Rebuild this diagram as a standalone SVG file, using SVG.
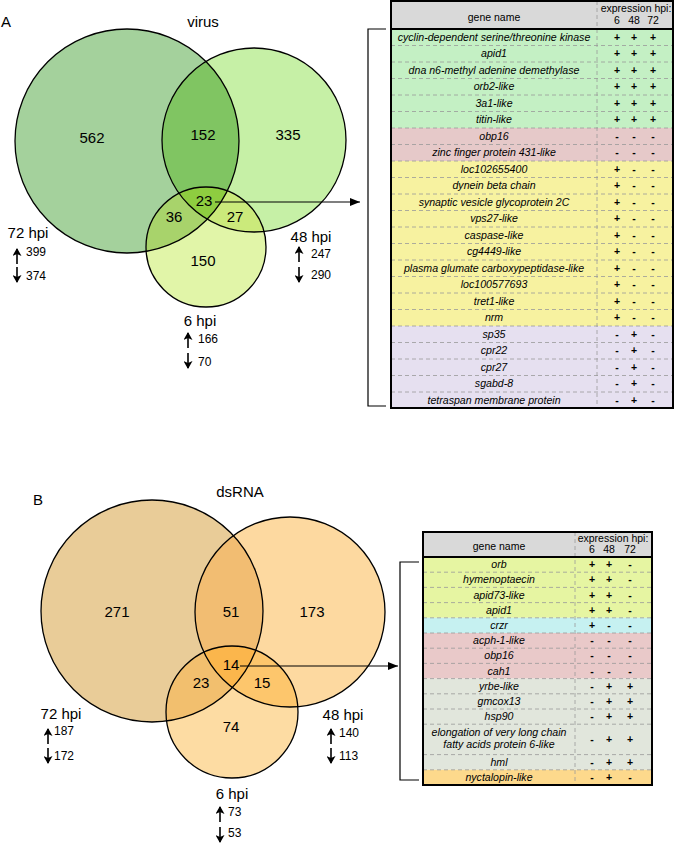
<svg xmlns="http://www.w3.org/2000/svg" width="675" height="843" viewBox="0 0 675 843">
<style>
text{font-family:"Liberation Sans",Arial,sans-serif;fill:#000}
.lbl{font-size:15px}
.num{font-size:15px;text-anchor:middle}
.sm{font-size:12px}
.mid{text-anchor:middle}
.g{font-size:10.6px;font-style:italic;text-anchor:middle}
.h{font-size:10.5px;text-anchor:middle}
.v{font-size:10.5px;font-weight:bold;text-anchor:middle}
.ring{fill:none;stroke:#000;stroke-width:1.3}
.rl{stroke:#999;stroke-width:0.8;stroke-dasharray:4,3}
.box{fill:none;stroke:#000;stroke-width:2}
.con{stroke:#000;stroke-width:1.2;fill:none}
.ud{stroke:#000;stroke-width:1.6;fill:none}
</style>
<defs>
<marker id="ah" markerWidth="10" markerHeight="8" refX="10" refY="4" orient="auto" markerUnits="userSpaceOnUse"><path d="M0,0 L10,4 L0,8 z" fill="#000"/></marker>
<marker id="sa" markerWidth="8" markerHeight="9" refX="7" refY="4.5" orient="auto" markerUnits="userSpaceOnUse"><path d="M0,0 L8,4.5 L0,9 L2,4.5 z" fill="#000"/></marker>
<clipPath id="cA1"><circle cx="127" cy="141" r="112"/></clipPath>
<clipPath id="cB1"><circle cx="254" cy="140" r="92"/></clipPath>
<clipPath id="cA2"><circle cx="152" cy="611" r="111"/></clipPath>
<clipPath id="cB2"><circle cx="290" cy="612" r="95"/></clipPath>
</defs>

<g id="venn-virus">
<circle cx="127" cy="141" r="112" fill="#a4d19c"/>
<circle cx="254" cy="140" r="92" fill="#c6f0a6"/>
<circle cx="206" cy="247" r="60" fill="#e1f5a8"/>
<circle cx="254" cy="140" r="92" fill="#80c562" clip-path="url(#cA1)"/>
<circle cx="206" cy="247" r="60" fill="#a8d36b" clip-path="url(#cA1)"/>
<circle cx="206" cy="247" r="60" fill="#cbea7b" clip-path="url(#cB1)"/>
<g clip-path="url(#cA1)"><circle cx="206" cy="247" r="60" fill="#8ecd40" clip-path="url(#cB1)"/></g>
<circle class="ring" cx="127" cy="141" r="112"/>
<circle class="ring" cx="254" cy="140" r="92"/>
<circle class="ring" cx="206" cy="247" r="60"/>
<text class="lbl" x="1" y="27">A</text>
<text class="lbl mid" x="203" y="27">virus</text>
<text class="num" x="92" y="143">562</text>
<text class="num" x="203" y="140">152</text>
<text class="num" x="288" y="140">335</text>
<text class="num" x="204" y="206">23</text>
<text class="num" x="174" y="222">36</text>
<text class="num" x="235" y="222">27</text>
<text class="num" x="203" y="266">150</text>
</g>

<g id="label-72hpi-A">
<text class="lbl mid" x="28" y="238">72 hpi</text>
<path class="ud" d="M17,264 L17,249" marker-end="url(#sa)"/>
<text class="sm" x="26" y="256">399</text>
<path class="ud" d="M17,267 L17,282" marker-end="url(#sa)"/>
<text class="sm" x="26" y="280">374</text>
</g>
<g id="label-48hpi-A">
<text class="lbl mid" x="311" y="242">48 hpi</text>
<path class="ud" d="M299,262 L299,247" marker-end="url(#sa)"/>
<text class="sm" x="311" y="258">247</text>
<path class="ud" d="M299,267 L299,282" marker-end="url(#sa)"/>
<text class="sm" x="311" y="279">290</text>
</g>
<g id="label-6hpi-A">
<text class="lbl mid" x="200" y="326">6 hpi</text>
<path class="ud" d="M188,348 L188,333" marker-end="url(#sa)"/>
<text class="sm" x="198" y="343">166</text>
<path class="ud" d="M188,353 L188,368" marker-end="url(#sa)"/>
<text class="sm" x="198" y="366">70</text>
</g>

<g id="table-A">
<rect x="391" y="1" width="282" height="28" fill="#d9d9d9"/>
<rect x="391" y="29" width="282" height="99" fill="#c4f0c4"/>
<rect x="391" y="128" width="282" height="33" fill="#e6c9c9"/>
<rect x="391" y="161" width="282" height="165" fill="#f7f2a0"/>
<rect x="391" y="326" width="282" height="82" fill="#e6e0f0"/>
<g class="rl">
<line x1="391" y1="45.5" x2="673" y2="45.5"/><line x1="391" y1="62" x2="673" y2="62"/><line x1="391" y1="78.5" x2="673" y2="78.5"/><line x1="391" y1="95" x2="673" y2="95"/><line x1="391" y1="111.5" x2="673" y2="111.5"/><line x1="391" y1="128" x2="673" y2="128"/><line x1="391" y1="144.5" x2="673" y2="144.5"/><line x1="391" y1="161" x2="673" y2="161"/><line x1="391" y1="177.5" x2="673" y2="177.5"/><line x1="391" y1="194" x2="673" y2="194"/><line x1="391" y1="210.5" x2="673" y2="210.5"/><line x1="391" y1="227" x2="673" y2="227"/><line x1="391" y1="243.5" x2="673" y2="243.5"/><line x1="391" y1="260" x2="673" y2="260"/><line x1="391" y1="276.5" x2="673" y2="276.5"/><line x1="391" y1="293" x2="673" y2="293"/><line x1="391" y1="309.5" x2="673" y2="309.5"/><line x1="391" y1="326" x2="673" y2="326"/><line x1="391" y1="342.5" x2="673" y2="342.5"/><line x1="391" y1="359" x2="673" y2="359"/><line x1="391" y1="375.5" x2="673" y2="375.5"/><line x1="391" y1="392" x2="673" y2="392"/>
<line x1="597" y1="1" x2="597" y2="408"/>
</g>
<line x1="391" y1="29" x2="673" y2="29" stroke="#000" stroke-width="2"/>
<rect class="box" x="391" y="1" width="282" height="407"/>
<text class="h" x="494" y="21">gene name</text>
<text class="h" x="636" y="12">expression hpi:</text>
<text class="h" x="617" y="24">6</text><text class="h" x="634" y="24">48</text><text class="h" x="653" y="24">72</text>
<text class="g" x="494" y="40.75">cyclin-dependent serine/threonine kinase</text>
<text class="g" x="494" y="57.25">apid1</text>
<text class="g" x="494" y="73.75">dna n6-methyl adenine demethylase</text>
<text class="g" x="494" y="90.25">orb2-like</text>
<text class="g" x="494" y="106.75">3a1-like</text>
<text class="g" x="494" y="123.25">titin-like</text>
<text class="g" x="494" y="139.75">obp16</text>
<text class="g" x="494" y="156.25">zinc finger protein 431-like</text>
<text class="g" x="494" y="172.75">loc102655400</text>
<text class="g" x="494" y="189.25">dynein beta chain</text>
<text class="g" x="494" y="205.75">synaptic vesicle glycoprotein 2C</text>
<text class="g" x="494" y="222.25">vps27-like</text>
<text class="g" x="494" y="238.75">caspase-like</text>
<text class="g" x="494" y="255.25">cg4449-like</text>
<text class="g" x="494" y="271.75">plasma glumate carboxypeptidase-like</text>
<text class="g" x="494" y="288.25">loc100577693</text>
<text class="g" x="494" y="304.75">tret1-like</text>
<text class="g" x="494" y="321.25">nrm</text>
<text class="g" x="494" y="337.75">sp35</text>
<text class="g" x="494" y="354.25">cpr22</text>
<text class="g" x="494" y="370.75">cpr27</text>
<text class="g" x="494" y="387.25">sgabd-8</text>
<text class="g" x="494" y="403.75">tetraspan membrane protein</text>
<g class="v">
<text x="617" y="40.75">+</text><text x="634" y="40.75">+</text><text x="653" y="40.75">+</text>
<text x="617" y="57.25">+</text><text x="634" y="57.25">+</text><text x="653" y="57.25">+</text>
<text x="617" y="73.75">+</text><text x="634" y="73.75">+</text><text x="653" y="73.75">+</text>
<text x="617" y="90.25">+</text><text x="634" y="90.25">+</text><text x="653" y="90.25">+</text>
<text x="617" y="106.75">+</text><text x="634" y="106.75">+</text><text x="653" y="106.75">+</text>
<text x="617" y="123.25">+</text><text x="634" y="123.25">+</text><text x="653" y="123.25">+</text>
<text x="617" y="139.75">-</text><text x="634" y="139.75">-</text><text x="653" y="139.75">-</text>
<text x="617" y="156.25">-</text><text x="634" y="156.25">-</text><text x="653" y="156.25">-</text>
<text x="617" y="172.75">+</text><text x="634" y="172.75">-</text><text x="653" y="172.75">-</text>
<text x="617" y="189.25">+</text><text x="634" y="189.25">-</text><text x="653" y="189.25">-</text>
<text x="617" y="205.75">+</text><text x="634" y="205.75">-</text><text x="653" y="205.75">-</text>
<text x="617" y="222.25">+</text><text x="634" y="222.25">-</text><text x="653" y="222.25">-</text>
<text x="617" y="238.75">+</text><text x="634" y="238.75">-</text><text x="653" y="238.75">-</text>
<text x="617" y="255.25">+</text><text x="634" y="255.25">-</text><text x="653" y="255.25">-</text>
<text x="617" y="271.75">+</text><text x="634" y="271.75">-</text><text x="653" y="271.75">-</text>
<text x="617" y="288.25">+</text><text x="634" y="288.25">-</text><text x="653" y="288.25">-</text>
<text x="617" y="304.75">+</text><text x="634" y="304.75">-</text><text x="653" y="304.75">-</text>
<text x="617" y="321.25">+</text><text x="634" y="321.25">-</text><text x="653" y="321.25">-</text>
<text x="617" y="337.75">-</text><text x="634" y="337.75">+</text><text x="653" y="337.75">-</text>
<text x="617" y="354.25">-</text><text x="634" y="354.25">+</text><text x="653" y="354.25">-</text>
<text x="617" y="370.75">-</text><text x="634" y="370.75">+</text><text x="653" y="370.75">-</text>
<text x="617" y="387.25">-</text><text x="634" y="387.25">+</text><text x="653" y="387.25">-</text>
<text x="617" y="403.75">-</text><text x="634" y="403.75">+</text><text x="653" y="403.75">-</text>
</g>
</g>

<g id="venn-dsRNA">
<circle cx="152" cy="611" r="111" fill="#e9cc98"/>
<circle cx="290" cy="612" r="95" fill="#fdd9a0"/>
<circle cx="232" cy="712" r="66" fill="#fddca3"/>
<circle cx="290" cy="612" r="95" fill="#f2bd72" clip-path="url(#cA2)"/>
<circle cx="232" cy="712" r="66" fill="#f2bf6e" clip-path="url(#cA2)"/>
<circle cx="232" cy="712" r="66" fill="#fdc66c" clip-path="url(#cB2)"/>
<g clip-path="url(#cA2)"><circle cx="232" cy="712" r="66" fill="#fbb64c" clip-path="url(#cB2)"/></g>
<circle class="ring" cx="152" cy="611" r="111"/>
<circle class="ring" cx="290" cy="612" r="95"/>
<circle class="ring" cx="232" cy="712" r="66"/>
<text class="lbl" x="33" y="505">B</text>
<text class="lbl mid" x="240" y="497">dsRNA</text>
<text class="num" x="117" y="617">271</text>
<text class="num" x="231" y="617">51</text>
<text class="num" x="312" y="617">173</text>
<text class="num" x="231" y="670">14</text>
<text class="num" x="201" y="688">23</text>
<text class="num" x="262" y="688">15</text>
<text class="num" x="231" y="732">74</text>
</g>

<g id="label-72hpi-B">
<text class="lbl mid" x="61" y="719">72 hpi</text>
<path class="ud" d="M48,744 L48,729" marker-end="url(#sa)"/>
<text class="sm" x="54" y="735">187</text>
<path class="ud" d="M48,748 L48,763" marker-end="url(#sa)"/>
<text class="sm" x="54" y="760">172</text>
</g>
<g id="label-48hpi-B">
<text class="lbl mid" x="343" y="720">48 hpi</text>
<path class="ud" d="M331,744 L331,729" marker-end="url(#sa)"/>
<text class="sm" x="339" y="737">140</text>
<path class="ud" d="M331,748 L331,763" marker-end="url(#sa)"/>
<text class="sm" x="339" y="760">113</text>
</g>
<g id="label-6hpi-B">
<text class="lbl mid" x="232" y="799">6 hpi</text>
<path class="ud" d="M220,822 L220,807" marker-end="url(#sa)"/>
<text class="sm" x="228" y="816">73</text>
<path class="ud" d="M220,827 L220,842" marker-end="url(#sa)"/>
<text class="sm" x="228" y="837">53</text>
</g>

<g id="table-B">
<rect x="423" y="532" width="229" height="25" fill="#d9d9d9"/>
<rect x="423" y="557" width="229" height="60.8" fill="#e6f5a2"/>
<rect x="423" y="617.8" width="229" height="15.2" fill="#c6f1f1"/>
<rect x="423" y="633" width="229" height="45.6" fill="#e9c9c9"/>
<rect x="423" y="678.6" width="229" height="91.2" fill="#e1e6dc"/>
<rect x="423" y="769.8" width="229" height="15.2" fill="#fdd98c"/>
<g class="rl">
<line x1="423" y1="572.2" x2="652" y2="572.2"/><line x1="423" y1="587.4" x2="652" y2="587.4"/><line x1="423" y1="602.6" x2="652" y2="602.6"/><line x1="423" y1="617.8" x2="652" y2="617.8"/><line x1="423" y1="633" x2="652" y2="633"/><line x1="423" y1="648.2" x2="652" y2="648.2"/><line x1="423" y1="663.4" x2="652" y2="663.4"/><line x1="423" y1="678.6" x2="652" y2="678.6"/><line x1="423" y1="693.8" x2="652" y2="693.8"/><line x1="423" y1="709" x2="652" y2="709"/><line x1="423" y1="724.2" x2="652" y2="724.2"/><line x1="423" y1="754.6" x2="652" y2="754.6"/><line x1="423" y1="769.8" x2="652" y2="769.8"/>
<line x1="575" y1="532" x2="575" y2="785"/>
</g>
<line x1="423" y1="557" x2="652" y2="557" stroke="#000" stroke-width="2"/>
<rect class="box" x="423" y="532" width="229" height="253"/>
<text class="h" x="499" y="550">gene name</text>
<text class="h" x="613" y="542">expression hpi:</text>
<text class="h" x="592" y="553">6</text><text class="h" x="609" y="553">48</text><text class="h" x="630" y="553">72</text>
<text class="g" x="499" y="568.1">orb</text>
<text class="g" x="499" y="583.3">hymenoptaecin</text>
<text class="g" x="499" y="598.5">apid73-like</text>
<text class="g" x="499" y="613.7">apid1</text>
<text class="g" x="499" y="628.9">crzr</text>
<text class="g" x="499" y="644.1">acph-1-like</text>
<text class="g" x="499" y="659.3">obp16</text>
<text class="g" x="499" y="674.5">cah1</text>
<text class="g" x="499" y="689.7">yrbe-like</text>
<text class="g" x="499" y="704.9">gmcox13</text>
<text class="g" x="499" y="720.1">hsp90</text>
<text class="g" x="499" y="736">elongation of very long chain</text>
<text class="g" x="499" y="748">fatty acids protein 6-like</text>
<text class="g" x="499" y="765.7">hml</text>
<text class="g" x="499" y="780.9">nyctalopin-like</text>
<g class="v">
<text x="592" y="568.1">+</text><text x="609" y="568.1">+</text><text x="630" y="568.1">-</text>
<text x="592" y="583.3">+</text><text x="609" y="583.3">+</text><text x="630" y="583.3">-</text>
<text x="592" y="598.5">+</text><text x="609" y="598.5">+</text><text x="630" y="598.5">-</text>
<text x="592" y="613.7">+</text><text x="609" y="613.7">+</text><text x="630" y="613.7">-</text>
<text x="592" y="628.9">+</text><text x="609" y="628.9">-</text><text x="630" y="628.9">-</text>
<text x="592" y="644.1">-</text><text x="609" y="644.1">-</text><text x="630" y="644.1">-</text>
<text x="592" y="659.3">-</text><text x="609" y="659.3">-</text><text x="630" y="659.3">-</text>
<text x="592" y="674.5">-</text><text x="609" y="674.5">-</text><text x="630" y="674.5">-</text>
<text x="592" y="689.7">-</text><text x="609" y="689.7">+</text><text x="630" y="689.7">+</text>
<text x="592" y="704.9">-</text><text x="609" y="704.9">+</text><text x="630" y="704.9">+</text>
<text x="592" y="720.1">-</text><text x="609" y="720.1">+</text><text x="630" y="720.1">+</text>
<text x="592" y="743">-</text><text x="609" y="743">+</text><text x="630" y="743">+</text>
<text x="592" y="765.7">-</text><text x="609" y="765.7">+</text><text x="630" y="765.7">+</text>
<text x="592" y="780.9">-</text><text x="609" y="780.9">+</text><text x="630" y="780.9">-</text>
</g>
</g>

<g id="connectors">
<path class="con" d="M215,202 L360,202" marker-end="url(#ah)"/>
<path class="con" d="M386,29 L368,29 L368,406 L386,406"/>
<path class="con" d="M240,666 L398,666" marker-end="url(#ah)"/>
<path class="con" d="M419,562 L400,562 L400,780 L419,780"/>
</g>
</svg>
